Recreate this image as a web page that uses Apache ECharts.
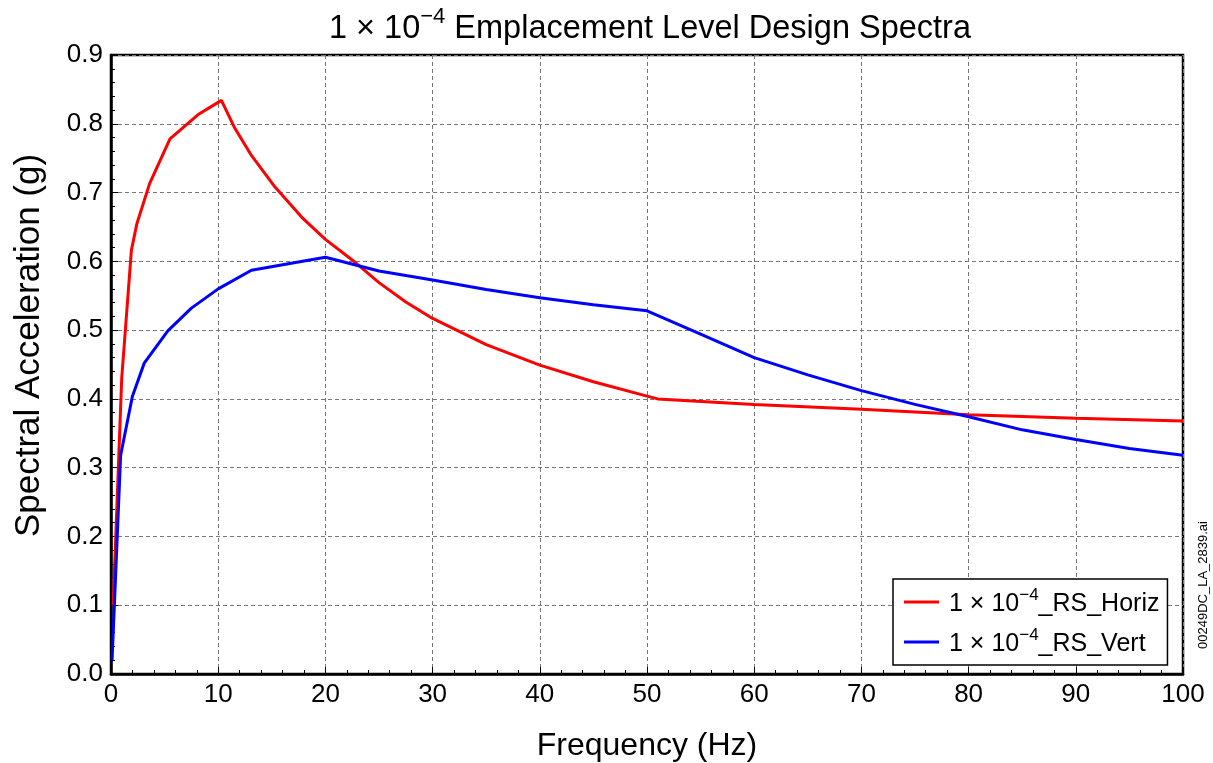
<!DOCTYPE html>
<html>
<head>
<meta charset="utf-8">
<script src="https://cdn.jsdelivr.net/npm/echarts@6/dist/echarts.min.js"></script>
<style>
  html, body { margin: 0; padding: 0; background: #fff; }
  #chart { width: 1213px; height: 763px; }
</style>
</head>
<body>
<div id="chart"></div>
<script>
// frequency (Hz), spectral acceleration (g)
const horizFreq = [0.2, 1.0, 1.9, 2.4, 3.6, 5.5, 8.1, 10.3, 11.5, 13.1, 15.3, 17.8, 20, 22.5, 25, 27.5, 30, 35, 40, 45, 50, 51, 60, 70, 80, 90, 100]
const horizAcc = [0.10, 0.43, 0.616, 0.654, 0.713, 0.778, 0.813, 0.834, 0.795, 0.754, 0.708, 0.664, 0.632, 0.602, 0.569, 0.541, 0.517, 0.479, 0.449, 0.425, 0.404, 0.400, 0.392, 0.385, 0.377, 0.372, 0.368]

const vertFreq = [0.1, 0.9, 2.0, 3.1, 5.3, 7.5, 10, 13.1, 20, 25, 30, 35, 40, 45, 50, 55, 60, 65, 70, 75, 80, 85, 90, 95, 100]
const vertAcc = [0.02, 0.318, 0.404, 0.452, 0.499, 0.532, 0.56, 0.587, 0.606, 0.586, 0.573, 0.559, 0.547, 0.537, 0.528, 0.494, 0.460, 0.435, 0.412, 0.392, 0.374, 0.355, 0.341, 0.328, 0.318]

const seriesNames = ['horiz', 'vert']
const legendLabels = {
  horiz: '{p|1 × 10}{s|−4}{a|_RS_Horiz}',
  vert: '{p|1 × 10}{s|−4}{a|_RS_Vert}',
}

const font = 'Liberation Sans, Arial, sans-serif'
const chart = echarts.init(document.getElementById('chart'))

const zip = (xs, ys) => xs.map((x, i) => [x, ys[i]])

const legendText = { fontFamily: font, fontSize: 25, color: '#000', lineHeight: 30, verticalAlign: 'bottom' }

const option = {
  backgroundColor: '#fff',
  animation: false,
  title: {
    text: '{a|1 × 10}{s|−4}{a| Emplacement Level Design Spectra}',
    left: 645,
    textAlign: 'center',
    top: 1,
    textStyle: {
      fontWeight: 'normal',
      rich: {
        a: { fontFamily: font, fontSize: 32.5, fontWeight: 'normal', color: '#000', lineHeight: 40, verticalAlign: 'bottom' },
        s: { fontFamily: font, fontSize: 22, fontWeight: 'normal', color: '#000', lineHeight: 40, verticalAlign: 'top', padding: [0, 0, 16, 0] },
      },
    },
  },
  grid: {
    left: 111, right: 30, top: 55, bottom: 89,
    show: true,
    borderColor: '#000',
    borderWidth: 2.5,
    containLabel: false,
    outerBoundsMode: 'none',
  },
  legend: {
    left: 893,
    top: 579,
    orient: 'vertical',
    itemWidth: 35,
    itemHeight: 3,
    itemGap: 10,
    padding: [8, 8, 8, 11],
    borderColor: '#000',
    borderWidth: 1.5,
    backgroundColor: '#fff',
    icon: 'rect',
    formatter: name => legendLabels[name],
    textStyle: {
      rich: {
        p: Object.assign({}, legendText, { padding: [0, 0, 0, 5] }),
        a: legendText,
        s: { fontFamily: font, fontSize: 17, color: '#000', lineHeight: 30, verticalAlign: 'top', padding: [0, 0, 12, 0] },
      },
    },
    data: seriesNames,
  },
  xAxis: {
    type: 'value',
    min: 0, max: 100, interval: 10,
    name: 'Frequency (Hz)',
    nameLocation: 'middle',
    nameGap: 56,
    nameTextStyle: { fontFamily: font, fontSize: 32, color: '#000' },
    axisLine: { show: true, lineStyle: { color: '#000', width: 2.5 } },
    axisTick: { show: true, inside: true, length: 7, lineStyle: { color: '#000' } },
    minorTick: { show: true, splitNumber: 5, length: 4, lineStyle: { color: '#000' } },
    axisLabel: { fontFamily: font, fontSize: 26, color: '#000', margin: 8 },
    splitLine: { show: true, lineStyle: { color: '#777', type: [4, 3], width: 1 } },
  },
  yAxis: {
    type: 'value',
    min: 0, max: 0.9, interval: 0.1,
    name: 'Spectral Acceleration (g)',
    nameLocation: 'middle',
    nameGap: 64,
    nameTextStyle: { fontFamily: font, fontSize: 35, color: '#000', padding: [0, 0, 0, 38] },
    axisLine: { show: true, lineStyle: { color: '#000', width: 2.5 } },
    axisTick: { show: true, inside: true, length: 7, lineStyle: { color: '#000' } },
    minorTick: { show: true, splitNumber: 5, length: 4, lineStyle: { color: '#000' } },
    axisLabel: {
      fontFamily: font, fontSize: 26, color: '#000', margin: 8,
      formatter: v => v.toFixed(1),
    },
    splitLine: { show: true, lineStyle: { color: '#777', type: [4, 3], width: 1 } },
  },
  graphic: [
    {
      type: 'text',
      x: 1203,
      y: 585,
      rotation: Math.PI / 2,
      style: {
        text: '00249DC_LA_2839.ai',
        fontFamily: font,
        fontSize: 13,
        fill: '#000',
        align: 'center',
        verticalAlign: 'middle',
      },
    },
  ],
  series: [
    {
      name: 'horiz',
      type: 'line',
      data: zip(horizFreq, horizAcc),
      showSymbol: false,
      smooth: false,
      lineStyle: { color: '#ff0000', width: 3 },
      itemStyle: { color: '#ff0000' },
    },
    {
      name: 'vert',
      type: 'line',
      data: zip(vertFreq, vertAcc),
      showSymbol: false,
      smooth: false,
      lineStyle: { color: '#0000ff', width: 3 },
      itemStyle: { color: '#0000ff' },
    },
  ],
}

chart.setOption(option)
</script>
</body>
</html>
